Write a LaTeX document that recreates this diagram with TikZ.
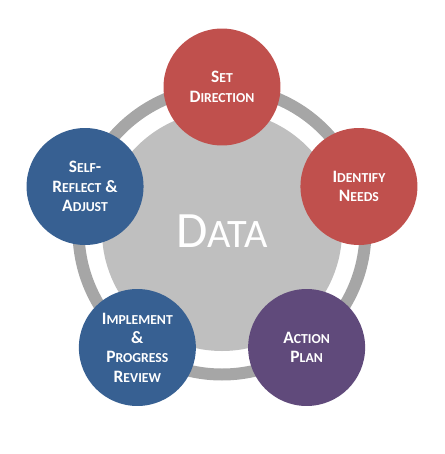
\documentclass[tikz,border=0pt]{standalone}
\usepackage{fontspec}
\setmainfont{Carlito}
\definecolor{stagered}{RGB}{192,80,77}
\definecolor{stageblue}{RGB}{55,96,146}
\definecolor{stagepurple}{RGB}{96,74,123}
\definecolor{ringgray}{RGB}{166,166,166}
\definecolor{datagray}{RGB}{191,191,191}
% big first letter, smaller rest
\newcommand{\capsc}[2]{{\fontsize{9.9}{11}\selectfont #1}{\fontsize{7.8}{11}\selectfont #2}}

\begin{document}
\begin{tikzpicture}[x=0.02cm, y=0.02cm]
            \tikzstyle{stage} = [circle, minimum size=2.34cm, inner sep=0pt, text=white,
                align=center, font=\bfseries\fontsize{9.9}{11}\selectfont]
            \useasboundingbox (-222,-223) rectangle (222,231);
            \fill[datagray] (0,0) circle (120);
            \draw[ringgray, line width=0.24cm] (0,0) circle (143.5);
            \node[text=white] (data) at (0,0)
                {{\fontsize{29}{30}\selectfont D}{\fontsize{23}{30}\selectfont ATA}};
            \node[stage, fill=stagered] (direction) at (90:144)
                {\capsc{S}{ET}\\\capsc{D}{IRECTION}};
            \node[stage, fill=stagered] (needs) at (18:144)
                {\capsc{I}{DENTIFY}\\\capsc{N}{EEDS}};
            \node[stage, fill=stagepurple] (plan) at (-54:144)
                {\capsc{A}{CTION}\\\capsc{P}{LAN}};
            \node[stage, fill=stageblue] (implement) at (-126:144)
                {\capsc{I}{MPLEMENT}\\\capsc{\&}{}\\\capsc{P}{ROGRESS}\\\capsc{R}{EVIEW}};
            \node[stage, fill=stageblue] (reflect) at (162:144)
                {\capsc{S}{ELF}-\\\capsc{R}{EFLECT} \capsc{\&}{}\\\capsc{A}{DJUST}};
        \end{tikzpicture}
\end{document}
